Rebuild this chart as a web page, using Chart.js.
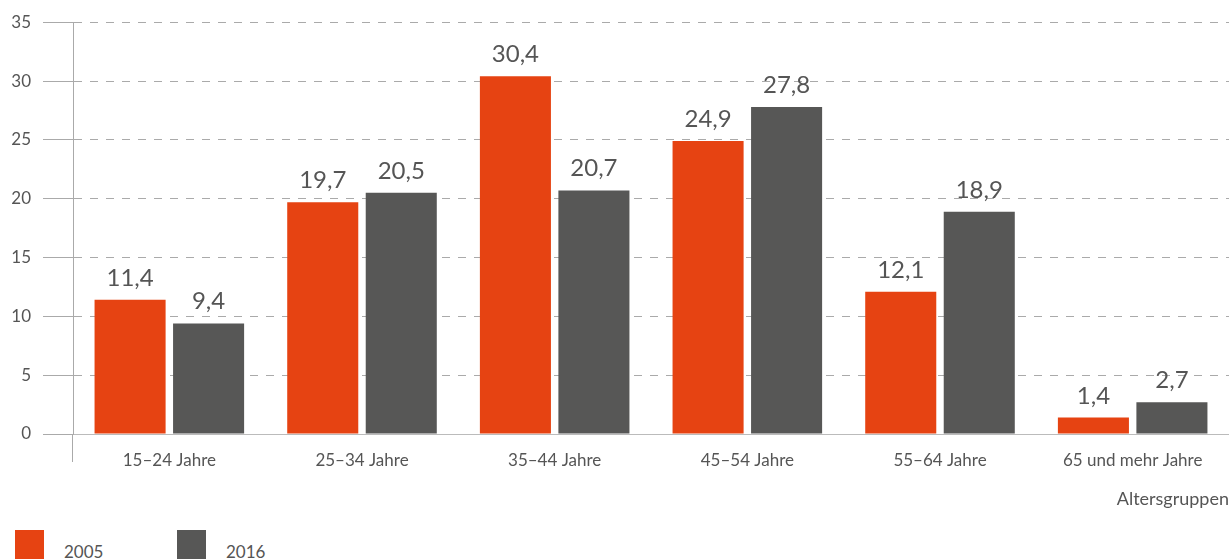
<!DOCTYPE html>
<html>
<head>
<meta charset="utf-8">
<script src="https://cdn.jsdelivr.net/npm/chart.js@4"></script>
<style>
  html, body { margin: 0; padding: 0; background: #fff; overflow: hidden; }
  #wrap { position: relative; width: 1229px; height: 559px; }
  #box { position: absolute; left: 0; top: 0; width: 1229px; height: 512px; }
  #legend { position: absolute; left: 15px; top: 530px; font-family: Lato, "Open Sans", sans-serif; font-size: 17px; color: #555; }
  #legend span.item { position: absolute; top: 0; white-space: nowrap; }
  #legend i { position: absolute; left: 0; top: 0; width: 29px; height: 29px; }
  #legend b { position: absolute; left: 49px; top: 11px; font-weight: normal; }
</style>
</head>
<body>
<div id="wrap">
  <div id="box"><canvas id="chart"></canvas></div>
  <div id="legend"></div>
</div>
<script>
const categories = ['15–24 Jahre', '25–34 Jahre', '35–44 Jahre', '45–54 Jahre', '55–64 Jahre', '65 und mehr Jahre'];
const years = ['2005', '2016'];
const values2005 = [11.4, 19.7, 30.4, 24.9, 12.1, 1.4];
const values2016 = [9.4, 20.5, 20.7, 27.8, 18.9, 2.7];
const colors = ['#e64312', '#575756'];
const axisTitle = 'Altersgruppen';

const textColor = '#555';
const fontFamily = 'Lato, "Open Sans", sans-serif';

// value labels above each bar, german decimal comma
const barLabels = {
    id: 'barLabels',
    afterDatasetsDraw(chart) {
        const ctx = chart.ctx;
        ctx.save();
        ctx.font = '24px ' + fontFamily;
        ctx.fillStyle = textColor;
        ctx.textAlign = 'center';
        ctx.textBaseline = 'alphabetic';
        chart.data.datasets.forEach((ds, i) => {
            chart.getDatasetMeta(i).data.forEach((bar, j) => {
                const txt = ds.data[j].toFixed(1).replace('.', ',');
                ctx.fillText(txt, bar.x, bar.y - 14);
            });
        });
        ctx.restore();
    }
};

const data = {
    labels: categories,
    datasets: [
        { label: years[0], data: values2005, backgroundColor: colors[0] },
        { label: years[1], data: values2016, backgroundColor: colors[1] }
    ]
};

const options = {
    responsive: true,
    maintainAspectRatio: false,
    animation: false,
    layout: { padding: { top: 18, right: 0, bottom: 2, left: 0 } },
    datasets: { bar: { categoryPercentage: 0.815, barPercentage: 0.905 } },
    plugins: { legend: { display: false }, tooltip: { enabled: false } },
    scales: {
        x: {
            grid: {
                drawOnChartArea: false,
                drawTicks: true,
                tickLength: 28,
                color: c => c.index === 0 ? '#aaa' : 'rgba(0,0,0,0)'
            },
            border: { display: true, color: '#bbb', width: 1 },
            ticks: { color: textColor, font: { family: fontFamily, size: 17 }, padding: -12, maxRotation: 0 },
            title: {
                display: true, text: axisTitle, align: 'end', color: textColor,
                font: { family: fontFamily, size: 18 }, padding: { top: 30, bottom: 0 }
            }
        },
        y: {
            min: 0,
            max: 35,
            ticks: { stepSize: 5, color: textColor, font: { family: fontFamily, size: 17 }, padding: 12 },
            grid: { color: '#aaa', tickLength: 30, tickColor: '#aaa', lineWidth: 1 },
            border: { display: true, color: '#aaa', dash: c => (c.tick && c.tick.value === 0) ? [] : [8, 8] },
            afterFit: scale => { scale.width = 73; }
        }
    }
};

new Chart(document.getElementById('chart'), { type: 'bar', data: data, options: options, plugins: [barLabels] });

// legend drawn as html
const legend = document.getElementById('legend');
years.forEach((y, i) => {
    const item = document.createElement('span');
    item.className = 'item';
    item.style.left = (i * 162) + 'px';
    item.innerHTML = '<i style="background:' + colors[i] + '"></i><b>' + y + '</b>';
    legend.appendChild(item);
});
</script>
</body>
</html>
